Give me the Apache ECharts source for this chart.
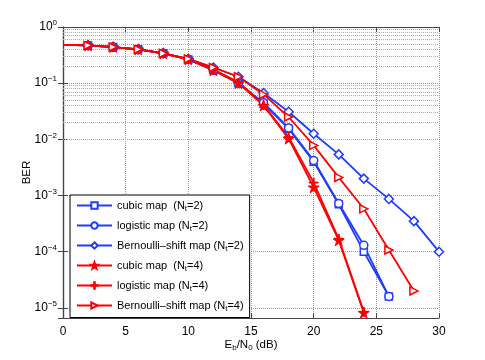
<!DOCTYPE html>
<html>
<head>
<meta charset="utf-8">
<script src="https://cdn.jsdelivr.net/npm/echarts@6/dist/echarts.min.js"></script>
<style>
  html, body { margin: 0; padding: 0; background: #fff; }
  #chart { width: 485px; height: 360px; }
</style>
</head>
<body>
<div id="chart"></div>
<script>
  // Eb/N0 points (dB)
  var ebn0 = [0, 2, 4, 6, 8, 10, 12, 14, 16, 18, 20, 22, 24, 26, 28, 30];

  // BER curves
  var cubicNt2     = [0.48, 0.47, 0.44, 0.40, 0.34, 0.265, 0.17, 0.10, 0.043, 0.0155, 0.004, 0.0007, 0.0001, 0.000016];
  var logisticNt2  = [0.48, 0.47, 0.44, 0.40, 0.34, 0.265, 0.17, 0.10, 0.045, 0.016, 0.0042, 0.00072, 0.00013, 0.000016];
  var bernoulliNt2 = [0.48, 0.47, 0.44, 0.40, 0.34, 0.27, 0.19, 0.13, 0.067, 0.031, 0.0126, 0.0054, 0.002, 0.00087, 0.00035, 0.0001];
  var cubicNt4     = [0.48, 0.47, 0.44, 0.40, 0.34, 0.265, 0.17, 0.10, 0.040, 0.0103, 0.0014, 0.00016, 0.0000082];
  var logisticNt4  = [0.48, 0.47, 0.44, 0.40, 0.34, 0.265, 0.175, 0.105, 0.041, 0.011, 0.0017, 0.00017, 0.0000085];
  var bernoulliNt4 = [0.48, 0.47, 0.44, 0.40, 0.34, 0.27, 0.19, 0.13, 0.063, 0.025, 0.0078, 0.0021, 0.00058, 0.000107, 0.00002];

  var seriesNames = [
    'cubic map  (Nt=2)',
    'logistic map (Nt=2)',
    'Bernoulli\u2013shift map (Nt=2)',
    'cubic map  (Nt=4)',
    'logistic map (Nt=4)',
    'Bernoulli\u2013shift map (Nt=4)'
  ];

  var xTicks = [0, 5, 10, 15, 20, 25, 30];
  var yMin = 6.6e-6, yMax = 1;

  var BLUE = '#1f3cff', RED = '#ff0000';
  var STAR = 'path://M50,0L61.8,35.6L99,35.6L69,57.6L80.4,93.2L50,71.2L19.6,93.2L31,57.6L1,35.6L38.2,35.6Z';
  var PLUS = 'path://M45,0L55,0L55,45L100,45L100,55L55,55L55,100L45,100L45,55L0,55L0,45L45,45Z';
  var TRI_RIGHT = 'path://M0,0L100,50L0,100Z';

  // minor (2..9) grid values per decade
  var minorGrid = [];
  for (var e = -6; e < 0; e++) {
    for (var m = 2; m <= 9; m++) {
      var v = m * Math.pow(10, e);
      if (v > yMin) minorGrid.push({ yAxis: v });
    }
  }

  function makeSeries(name, values, color, symbol, hollow, size) {
    return {
      name: name,
      type: 'line',
      data: values.map(function (v, i) {
        var item = { value: [ebn0[i], v] };
        if (i === 0) item.symbol = 'none';
        return item;
      }),
      symbol: symbol,
      symbolSize: size,
      showAllSymbol: true,
      clip: false,
      lineStyle: { color: color, width: 1.8 },
      itemStyle: hollow
        ? { color: '#fff', borderColor: color, borderWidth: 1.5 }
        : { color: color, borderColor: color, borderWidth: 1 },
      emphasis: { disabled: true },
      z: 3
    };
  }

  var chart = echarts.init(document.getElementById('chart'));

  var series = [
    makeSeries(seriesNames[0], cubicNt2, BLUE, 'rect', true, 7),
    makeSeries(seriesNames[1], logisticNt2, BLUE, 'circle', true, 8),
    makeSeries(seriesNames[2], bernoulliNt2, BLUE, 'diamond', true, 9),
    makeSeries(seriesNames[3], cubicNt4, RED, STAR, false, 11),
    makeSeries(seriesNames[4], logisticNt4, RED, PLUS, false, 9),
    makeSeries(seriesNames[5], bernoulliNt4, RED, TRI_RIGHT, true, 8)
  ];
  // dotted minor grid lines
  series[0].markLine = {
    silent: true,
    symbol: 'none',
    animation: false,
    label: { show: false },
    lineStyle: { type: 'dotted', color: '#aaa', width: 1 },
    data: minorGrid,
    z: 1
  };

  var font = 'Liberation Sans, Arial, sans-serif';

  chart.setOption({
    animation: false,
    textStyle: { fontFamily: font },
    grid: { left: 63, right: 46, top: 27, bottom: 42 },
    legend: {
      data: seriesNames,
      orient: 'vertical',
      left: 70,
      top: 195,
      padding: [5, 6, 5, 6],
      itemWidth: 35,
      itemHeight: 8,
      itemGap: 7.5,
      backgroundColor: '#fff',
      borderColor: '#000',
      borderWidth: 1,
      borderRadius: 0,
      selectedMode: false,
      formatter: function (name) {
        return name.replace('Nt=', 'N{s|t}=');
      },
      textStyle: {
        fontFamily: font,
        fontSize: 11,
        color: '#000',
        rich: {
          s: { fontSize: 8, padding: [6, 0, 0, 0], fontFamily: font, color: '#000' }
        }
      }
    },
    xAxis: [{
      type: 'value',
      min: 0,
      max: 30,
      interval: 5,
      name: '{n|E}{s|b}{n|/N}{s|0}{n| (dB)}',
      nameLocation: 'middle',
      nameGap: 19,
      nameMoveOverlap: false,
      nameTextStyle: {
        rich: {
          n: { fontSize: 11.5, fontFamily: font, color: '#000' },
          s: { fontSize: 8, padding: [7, 0, 0, 0], fontFamily: font, color: '#000' }
        }
      },
      axisLine: { lineStyle: { color: '#444', width: 1.2 } },
      axisTick: { inside: true, length: 5, lineStyle: { color: '#444' } },
      axisLabel: {
        margin: 8, fontSize: 12, color: '#000', fontFamily: font,
        formatter: function (v) { return xTicks.indexOf(v) >= 0 ? String(v) : ''; }
      },
      splitLine: { show: true, lineStyle: { type: 'dotted', color: '#999' } }
    }, {
      type: 'value',
      position: 'top',
      min: 0,
      max: 30,
      interval: 5,
      axisLine: { show: true, lineStyle: { color: '#444', width: 1.2 } },
      axisTick: { show: true, inside: true, length: 5, lineStyle: { color: '#444' } },
      axisLabel: { show: false },
      splitLine: { show: false }
    }],
    yAxis: [{
      type: 'log',
      logBase: 10,
      min: yMin,
      max: yMax,
      name: 'BER',
      nameLocation: 'middle',
      nameGap: 30,
      nameMoveOverlap: false,
      nameTextStyle: { fontSize: 11.5, color: '#000', fontFamily: font },
      axisLine: { show: true, lineStyle: { color: '#444', width: 1.2 } },
      axisTick: { inside: true, length: 5, lineStyle: { color: '#444' } },
      axisLabel: {
        margin: 6, color: '#000', fontFamily: font,
        formatter: function (v) {
          var p = Math.log10(v);
          if (Math.abs(p - Math.round(p)) > 1e-6) return '';
          return '{b|10}{e|' + Math.round(p).toString().replace('-', '\u2212') + '}';
        },
        rich: {
          b: { fontSize: 12, fontFamily: font, color: '#000' },
          e: { fontSize: 8, padding: [0, 0, 8, 0], fontFamily: font, color: '#000' }
        }
      },
      splitLine: { show: true, lineStyle: { type: 'dotted', color: '#999' } }
    }, {
      type: 'log',
      logBase: 10,
      position: 'right',
      min: yMin,
      max: yMax,
      axisLine: { show: true, lineStyle: { color: '#444', width: 1.2 } },
      axisTick: { show: true, inside: true, length: 5, lineStyle: { color: '#444' } },
      axisLabel: { show: false },
      splitLine: { show: false }
    }],
    series: series
  });
</script>
</body>
</html>
